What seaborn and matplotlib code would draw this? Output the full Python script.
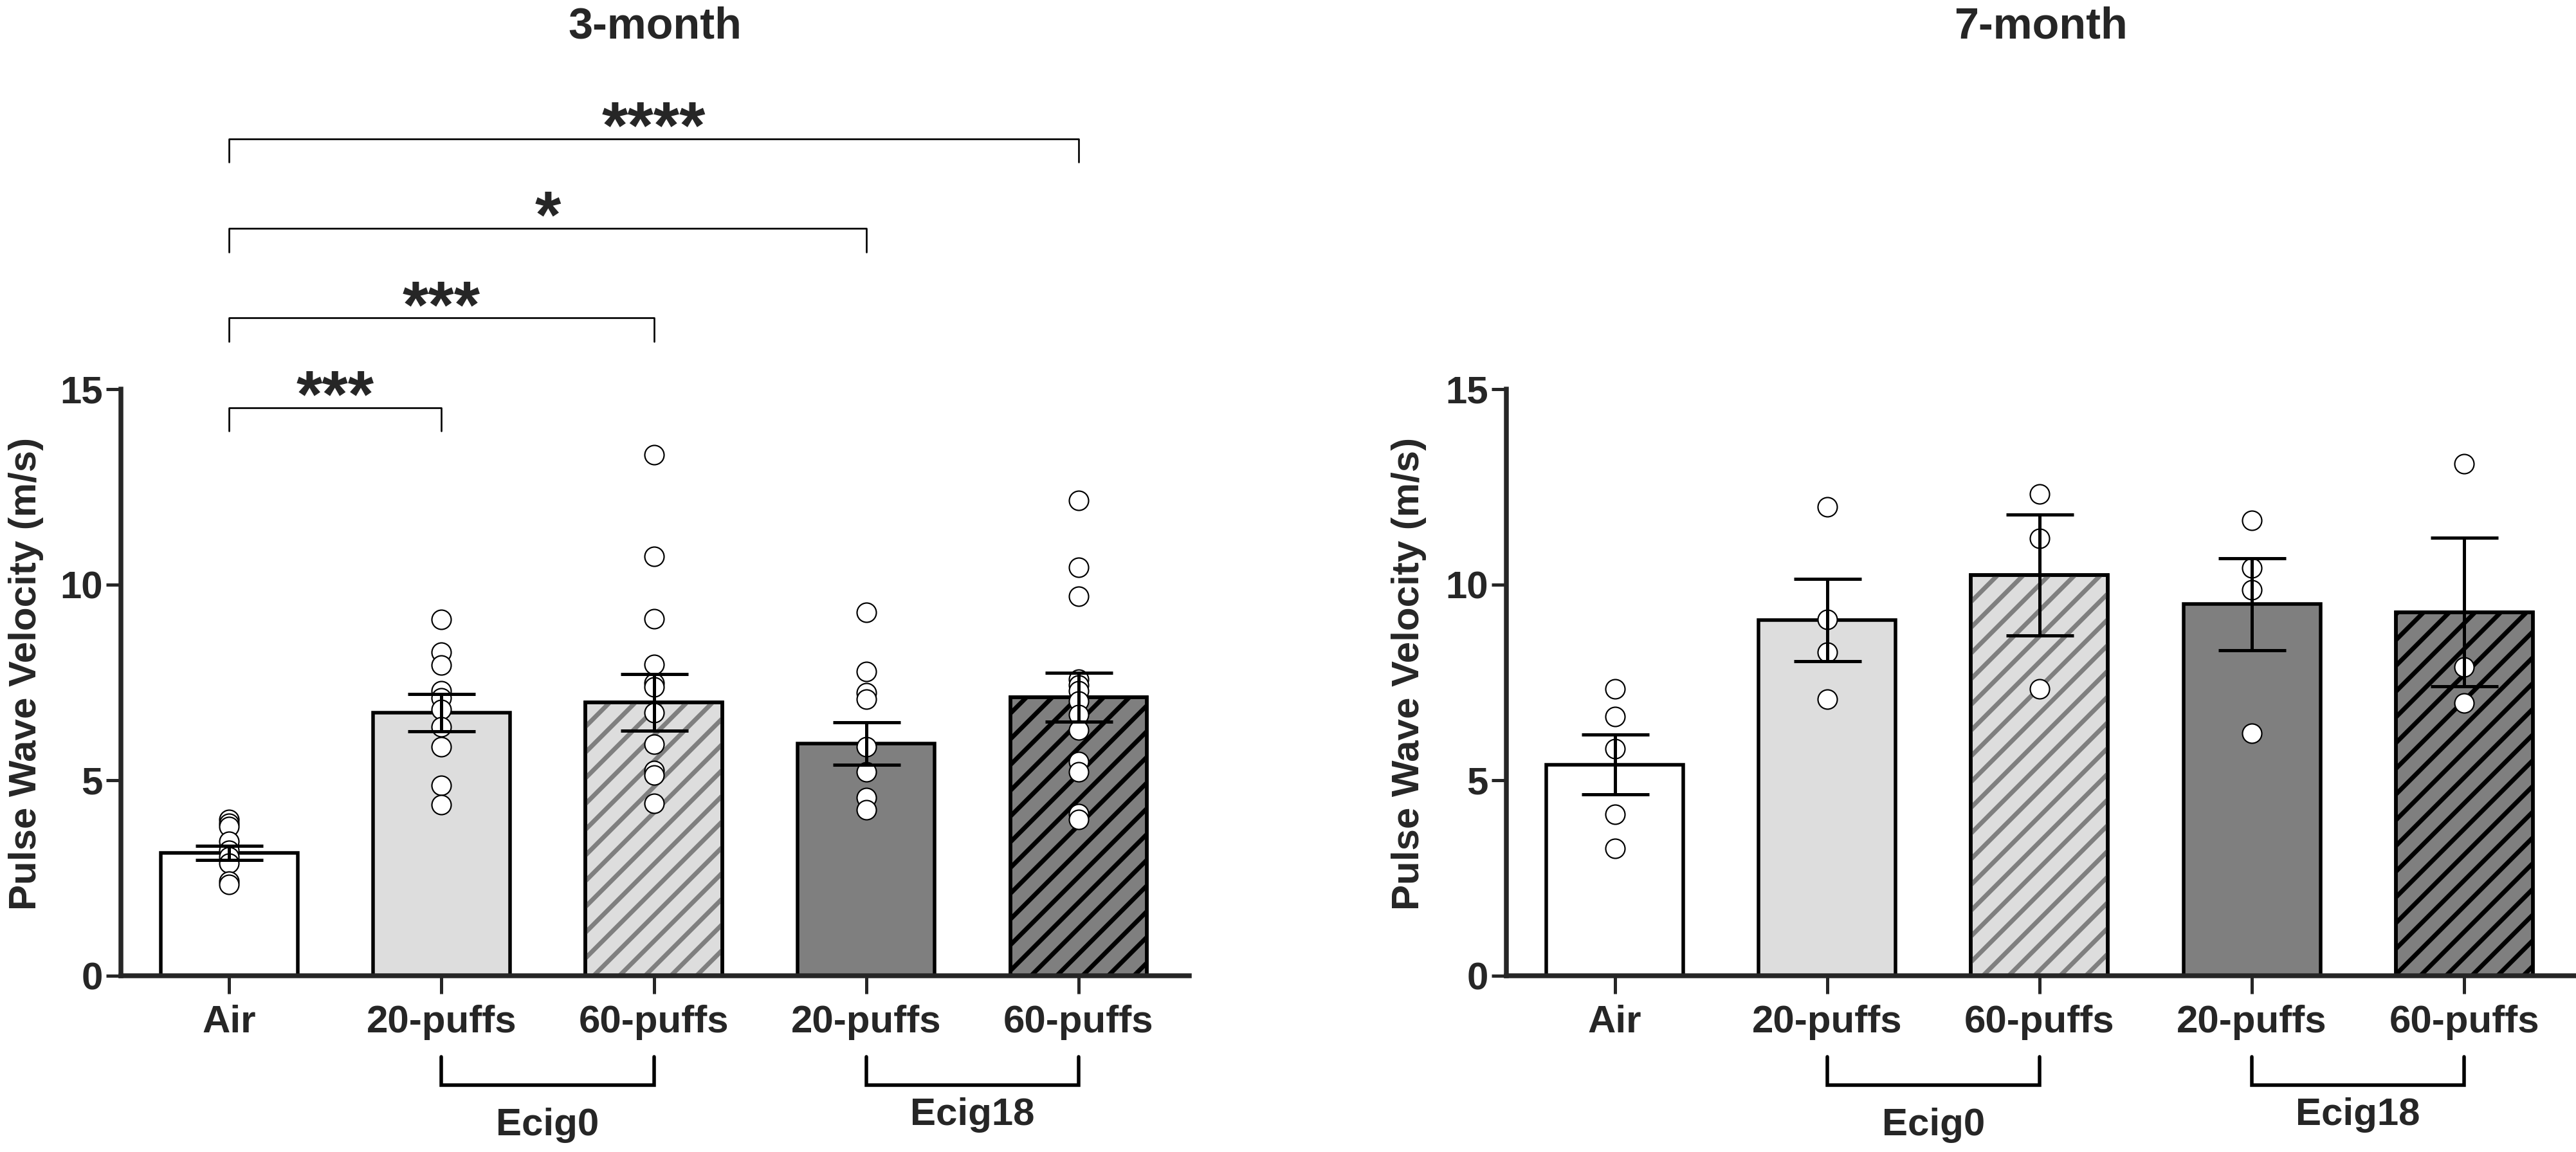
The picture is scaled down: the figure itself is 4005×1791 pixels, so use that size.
import numpy as np
import pandas as pd
import matplotlib
matplotlib.use("Agg")
import matplotlib.pyplot as plt
from matplotlib.patches import Rectangle
import seaborn as sns

# ==========================
# 1. Données
# ==========================
groups = ["Air", "Ecig0 20-puffs", "Ecig0 60-puffs", "Ecig18 20-puffs", "Ecig18 60-puffs"]
tick_labels = ["Air", "20-puffs", "60-puffs", "20-puffs", "60-puffs"]
panel_titles = ["3-month", "7-month"]

mean_3m = [3.14, 6.73, 6.99, 5.94, 7.12]
sem_3m = [0.18, 0.48, 0.72, 0.54, 0.62]
mean_7m = [5.40, 9.10, 10.25, 9.50, 9.30]
sem_7m = [0.76, 1.05, 1.55, 1.17, 1.90]

pts_3m = {
    "Air": [4.0, 3.9, 3.82, 3.44, 3.2, 3.04, 2.88, 2.42, 2.34],
    "Ecig0 20-puffs": [9.11, 8.27, 7.94, 7.28, 7.1, 6.81, 6.36, 5.86, 4.87, 4.37],
    "Ecig0 60-puffs": [13.33, 10.72, 9.13, 7.96, 7.49, 7.38, 6.73, 5.92, 5.24, 5.13, 4.4],
    "Ecig18 20-puffs": [9.3, 7.78, 7.23, 7.07, 5.86, 5.21, 4.55, 4.24],
    "Ecig18 60-puffs": [12.15, 10.45, 9.71, 7.59, 7.43, 7.28, 7.02, 6.68, 6.28,
                        5.47, 5.21, 4.14, 4.0],
}
pts_7m = {
    "Air": [7.33, 6.62, 5.81, 4.12, 3.25],
    "Ecig0 20-puffs": [11.99, 9.11, 8.27, 7.07],
    "Ecig0 60-puffs": [12.32, 11.18, 7.33],
    "Ecig18 20-puffs": [11.64, 10.42, 9.87, 6.2],
    "Ecig18 60-puffs": [13.09, 7.9, 6.98],
}

sig_pairs = [(0, 1), (0, 2), (0, 3), (0, 4)]
sig_labels = ["***", "***", "*", "****"]

group_names = ["Ecig0", "Ecig18"]
group_spans = [(1, 2), (3, 4)]

# ==========================
# 2. Style
# ==========================
bar_colors = ["#FFFFFF", "#DDDDDD", "#DDDDDD", "#7F7F7F", "#7F7F7F"]
hatches = [None, None, "/", None, "/"]
hatch_colors = [None, None, "#7F7F7F", None, "#000000"]

DPI = 120
sns.set_style("ticks")
plt.rcParams["font.family"] = ["Liberation Sans", "DejaVu Sans"]
plt.rcParams["font.weight"] = "bold"
plt.rcParams["hatch.linewidth"] = 4.2

fig = plt.figure(figsize=(4005 / DPI, 1791 / DPI), dpi=DPI)
ax_left = fig.add_axes([0.0469, 0.153, 0.4147, 0.5092])
ax_right = fig.add_axes([0.5848, 0.153, 0.4147, 0.5092])


def draw_panel(ax, means, sems, pts, title, ylabel_x, with_sig):
    df_bar = pd.DataFrame({"group": groups, "pwv": means})
    sns.barplot(data=df_bar, x="group", y="pwv", hue="group", order=groups,
                hue_order=groups, palette=bar_colors, legend=False,
                errorbar=None, width=0.645, edgecolor="black", linewidth=3.3,
                ax=ax, zorder=1)

    # hachures + contour par-dessus
    for p in list(ax.patches):
        i = int(round(p.get_x() + p.get_width() / 2))
        if hatches[i]:
            ax.add_patch(Rectangle((p.get_x(), p.get_y()), p.get_width(), p.get_height(),
                                   facecolor="none", edgecolor=hatch_colors[i],
                                   hatch=hatches[i], linewidth=0, zorder=1.2))
            ax.add_patch(Rectangle((p.get_x(), p.get_y()), p.get_width(), p.get_height(),
                                   facecolor="none", edgecolor="black",
                                   linewidth=3.3, zorder=1.3))

    df_pts = pd.DataFrame([(g, v) for g in groups for v in pts[g]], columns=["group", "pwv"])
    sns.stripplot(data=df_pts, x="group", y="pwv", order=groups, jitter=False,
                  color="white", edgecolor="black", linewidth=1.3, size=18,
                  ax=ax, zorder=3)

    ax.errorbar(x=np.arange(len(groups)), y=means, yerr=sems, fmt="none",
                ecolor="black", elinewidth=3, capsize=31.5, capthick=3, zorder=4)

    ax.set_xlim(-0.51, 4.52)
    ax.set_ylim(0, 15)
    ax.set_yticks([0, 5, 10, 15])
    ax.set_xticks(range(len(groups)))
    ax.set_xticklabels(tick_labels)
    ax.set_xlabel("")
    ax.set_ylabel("Pulse Wave Velocity (m/s)", fontsize=36, fontweight="bold",
                  va="center")
    ax.yaxis.set_label_coords(ylabel_x, 0.515)
    ax.tick_params(axis="x", length=17, width=3, pad=10, labelsize=36)
    ax.tick_params(axis="y", length=14, width=3, pad=3, labelsize=36)
    for lab in ax.get_xticklabels() + ax.get_yticklabels():
        lab.set_fontweight("bold")
    sns.despine(ax=ax)
    for s in ["left", "bottom"]:
        ax.spines[s].set_linewidth(4.5)

    # accolades des groupes sous l'axe
    for (a, b), name, ty in zip(group_spans, group_names, [-3.82, -3.56]):
        ax.plot([a, a, b, b], [-2.08, -2.8, -2.8, -2.08], color="black",
                lw=3.3, clip_on=False, solid_joinstyle="miter")
        ax.text((a + b) / 2, ty, name, ha="center", va="center",
                fontsize=36, fontweight="bold", clip_on=False)

    if with_sig:
        for k, ((a, b), lab) in enumerate(zip(sig_pairs, sig_labels)):
            h = 14.53 + 2.29 * k
            ax.plot([a, a, b, b], [h - 0.6, h, h, h - 0.6], color="black",
                    lw=1.6, clip_on=False)
            ax.text((a + b) / 2, h - 0.6, lab, ha="center", va="bottom",
                    fontsize=62, fontweight="bold", clip_on=False)

    # titre en haut de la figure
    bb = ax.get_position()
    fig.text(bb.x0 + bb.width / 2, 0.977, title, ha="center", va="center",
             fontsize=41, fontweight="bold")


draw_panel(ax_left, mean_3m, sem_3m, pts_3m, panel_titles[0], -0.089, True)
draw_panel(ax_right, mean_7m, sem_7m, pts_7m, panel_titles[1], -0.0915, False)

fig.savefig("out.png", dpi=DPI)
